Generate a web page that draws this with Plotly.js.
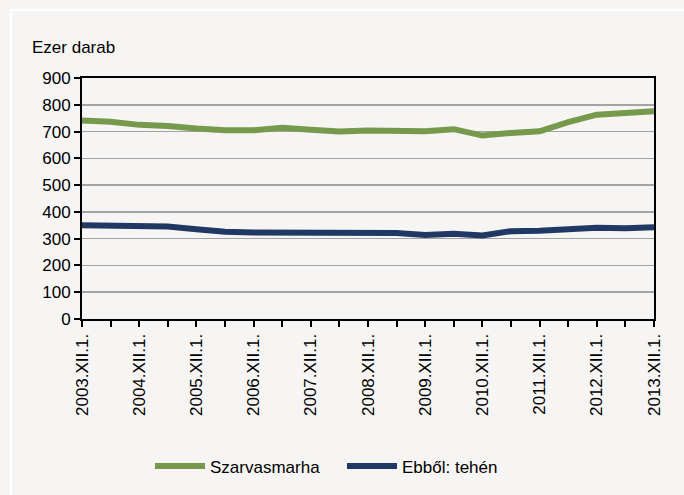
<!DOCTYPE html>
<html>
<head>
<meta charset="utf-8">
<script src="https://cdn.plot.ly/plotly-3.0.1.min.js"></script>
<style>html,body{margin:0;padding:0;background:#f6f5f3;}#chart{width:684px;height:495px;}</style>
</head>
<body>
<div id="chart"></div>
<script>
const tickLabels = ["2003.XII.1.","2004.XII.1.","2005.XII.1.","2006.XII.1.","2007.XII.1.","2008.XII.1.","2009.XII.1.","2010.XII.1.","2011.XII.1.","2012.XII.1.","2013.XII.1."];
const szarvasmarha = [741,737,725,721,711,705,705,714,707,700,704,705,701,709,685,695,701,735,763,769,776];
const tehen = [350,347,346,345,335,326,323,323,324,326,325,321,314,318,312,328,330,336,341,339,343];
const seriesNames = ["Szarvasmarha","Ebből: tehén"];
const yTitle = "Ezer darab";

const idx = szarvasmarha.map((_, i) => i);
const tickText = idx.map(i => i % 2 === 0 ? tickLabels[i / 2] : "");
const font = "Liberation Sans, Arial, sans-serif";
const fs = 17;

const traces = [
  {x: idx, y: szarvasmarha, name: seriesNames[0], type: "scatter", mode: "lines",
   line: {color: "#77994b", width: 6}, legend: "legend"},
  {x: idx, y: tehen, name: seriesNames[1], type: "scatter", mode: "lines",
   line: {color: "#203864", width: 6}, legend: "legend2"}
];

const legBase = {orientation: "h", yanchor: "middle", xanchor: "left", y: -0.605,
                 font: {family: font, size: fs}, bgcolor: "rgba(0,0,0,0)", itemwidth: 50};

const layout = {
  width: 684, height: 495,
  paper_bgcolor: "#f6f5f3", plot_bgcolor: "#f6f5f3",
  margin: {l: 82, r: 30, t: 78, b: 175},
  font: {family: font, size: fs, color: "#000"},
  showlegend: true,
  legend: Object.assign({}, legBase, {x: (150 - 82) / 572}),
  legend2: Object.assign({}, legBase, {x: (342 - 82) / 572}),
  xaxis: {range: [0, 20], tickmode: "array", tickvals: idx, ticktext: tickText,
          tickangle: -90, ticks: "outside", ticklen: 6, tickwidth: 2, tickcolor: "#000",
          showline: true, linecolor: "#000", linewidth: 2, mirror: true,
          showgrid: false, zeroline: false, fixedrange: true,
          tickfont: {family: font, size: fs}},
  yaxis: {range: [0, 900], dtick: 100, ticks: "outside", ticklen: 6, tickwidth: 2, tickcolor: "#000",
          showline: true, linecolor: "#000", linewidth: 2, mirror: true,
          showgrid: true, gridcolor: "#a3a3a3", gridwidth: 1.5, zeroline: false,
          tickfont: {family: font, size: fs}, fixedrange: true},
  annotations: [{text: yTitle, xref: "paper", yref: "paper", x: (30 - 82) / 572, y: (320 - 47) / 242,
                 xanchor: "left", yanchor: "middle", showarrow: false,
                 font: {family: font, size: fs}}],
  shapes: [{type: "rect", xref: "paper", yref: "paper", x0: (11 - 82) / 572, x1: 1.2,
            y0: -0.8, y1: (320 - 10) / 242,
            line: {color: "#ffffff", width: 2}, layer: "below"}]
};

Plotly.newPlot("chart", traces, layout, {displayModeBar: false, staticPlot: true});
</script>
</body>
</html>
